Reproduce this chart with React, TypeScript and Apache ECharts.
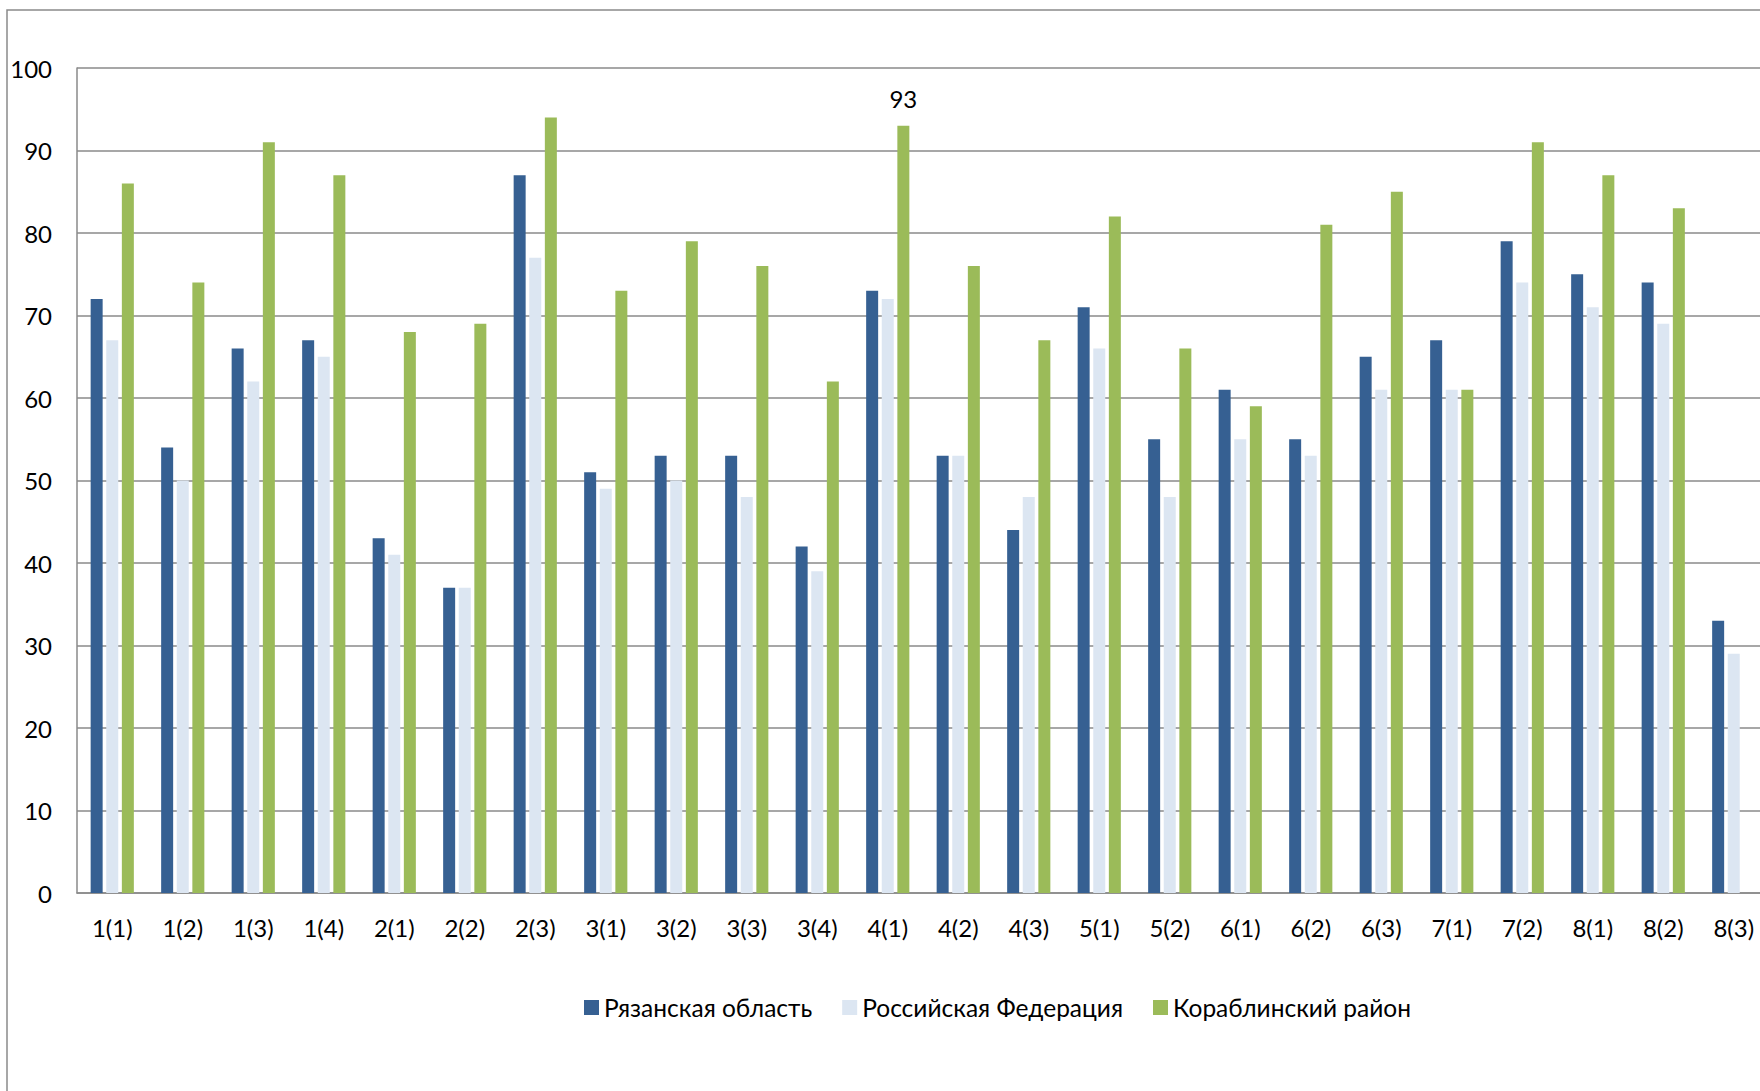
import React, { useEffect, useRef } from "react";
import * as echarts from "echarts";

const categories = [
  "1(1)", "1(2)", "1(3)", "1(4)", "2(1)", "2(2)", "2(3)", "3(1)", "3(2)", "3(3)", "3(4)", "4(1)",
  "4(2)", "4(3)", "5(1)", "5(2)", "6(1)", "6(2)", "6(3)", "7(1)", "7(2)", "8(1)", "8(2)", "8(3)",
];
const ryazan = [72, 54, 66, 67, 43, 37, 87, 51, 53, 53, 42, 73, 53, 44, 71, 55, 61, 55, 65, 67, 79, 75, 74, 33];
const russia = [67, 50, 62, 65, 41, 37, 77, 49, 50, 48, 39, 72, 53, 48, 66, 48, 55, 53, 61, 61, 74, 71, 69, 29];
const korablino = [86, 74, 91, 87, 68, 69, 94, 73, 79, 76, 62, 93, 76, 67, 82, 66, 59, 81, 85, 61, 91, 87, 83, null];
const seriesNames = ["Рязанская область", "Российская Федерация", "Кораблинский район"];
const labeledCategory = "4(1)";
const yTicks = { min: 0, max: 100, interval: 10 };

const FONT = "Lato";

export default function App() {
  const ref = useRef<HTMLDivElement>(null);
  useEffect(() => {
    if (!ref.current) return;
    const chart = echarts.init(ref.current, undefined, { renderer: "svg" });
    const greenData = korablino.map((v, i) =>
      categories[i] === labeledCategory
        ? {
            value: v,
            label: {
              show: true,
              position: "top",
              distance: 15,
              fontSize: 24,
              fontFamily: FONT,
              color: "#000",
            },
          }
        : v
    );
    chart.setOption({
      animation: false,
      backgroundColor: "#fff",
      textStyle: { fontFamily: FONT },
      graphic: [
        {
          type: "rect",
          z: -10,
          shape: { x: 7, y: 10, width: 1900, height: 1200 },
          style: { fill: "none", stroke: "#8a8a8a", lineWidth: 1.5 },
        },
      ],
      grid: { left: 77, top: 68, bottom: 198, right: 0, containLabel: false },
      legend: {
        left: 579,
        top: 990,
        itemWidth: 15,
        itemHeight: 15,
        itemGap: 30,
        icon: "rect",
        textStyle: { fontSize: 24.5, fontFamily: FONT, color: "#000" },
        data: seriesNames,
      },
      xAxis: {
        type: "category",
        data: categories,
        axisLine: { show: true, lineStyle: { color: "#8a8a8a", width: 1.5 } },
        axisTick: { show: false },
        axisLabel: { fontSize: 24, fontFamily: FONT, color: "#000", margin: 22, interval: 0 },
      },
      yAxis: {
        type: "value",
        min: yTicks.min,
        max: yTicks.max,
        interval: yTicks.interval,
        axisLine: { show: true, lineStyle: { color: "#8a8a8a", width: 1.5 } },
        axisTick: { show: false },
        axisLabel: { fontSize: 24, fontFamily: FONT, color: "#000", margin: 25 },
        splitLine: { show: true, lineStyle: { color: "#8a8a8a", width: 1.5 } },
      },
      series: [
        {
          name: seriesNames[0],
          type: "bar",
          data: ryazan,
          barWidth: 12,
          barGap: "30%",
          itemStyle: { color: "#366092" },
        },
        {
          name: seriesNames[1],
          type: "bar",
          data: russia,
          barWidth: 12,
          barGap: "30%",
          itemStyle: { color: "#dce6f2" },
        },
        {
          name: seriesNames[2],
          type: "bar",
          data: greenData,
          barWidth: 12,
          barGap: "30%",
          itemStyle: { color: "#9bbb59" },
        },
      ],
    });
    return () => chart.dispose();
  }, []);
  return (
    <div
      style={{ position: "fixed", left: 0, top: 0, width: 1760, height: 1091, overflow: "hidden", background: "#fff" }}
    >
      <div ref={ref} style={{ position: "absolute", left: 0, top: 0, width: 1769, height: 1091 }} />
    </div>
  );
}
